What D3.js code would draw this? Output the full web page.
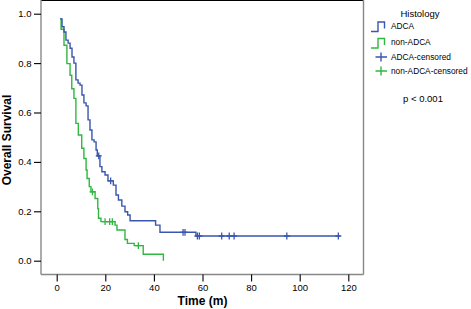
<!DOCTYPE html>
<html>
<head>
<meta charset="utf-8">
<script src="https://cdn.jsdelivr.net/npm/d3@7"></script>
<style>
  body { margin: 0; background: #fff; }
  text { font-family: "Liberation Sans", Arial, sans-serif; }
</style>
</head>
<body>
<svg id="chart" width="471" height="309"></svg>
<script>
// Kaplan-Meier steps (months, survival after the drop)
const blueTimes = [1.4, 2.2, 3.0, 3.8, 4.7, 5.5, 6.3, 7.1, 7.9, 8.8, 9.6, 10.4, 11.2, 12.1, 12.9, 13.7, 14.5, 15.4, 16.2, 16.7, 17.8, 18.6, 19.9, 21.1, 23.3, 24.4, 25.4, 26.8, 28.1, 29.2, 30.2, 40.7, 42.5, 57.3];
const blueSurv = [0.979, 0.947, 0.926, 0.893, 0.881, 0.860, 0.825, 0.800, 0.732, 0.719, 0.711, 0.671, 0.639, 0.627, 0.570, 0.529, 0.489, 0.481, 0.448, 0.424, 0.381, 0.360, 0.347, 0.323, 0.306, 0.266, 0.246, 0.221, 0.198, 0.185, 0.162, 0.144, 0.115, 0.100];
const blueEnd = 116.6;
const blueCensored = [17.3, 22.2, 52.0, 52.8, 57.9, 58.7, 67.9, 71.0, 73.0, 94.7, 115.9];

const greenTimes = [1.4, 1.8, 3.0, 4.2, 5.5, 6.2, 7.1, 7.9, 8.9, 10.3, 11.2, 12.1, 12.5, 13.4, 14.1, 15.8, 16.9, 17.2, 18.2, 24.0, 24.8, 28.1, 29.1, 31.9, 35.6, 43.9];
const greenSurv = [0.980, 0.937, 0.872, 0.798, 0.751, 0.696, 0.657, 0.556, 0.509, 0.455, 0.414, 0.367, 0.333, 0.300, 0.279, 0.252, 0.211, 0.172, 0.158, 0.144, 0.124, 0.086, 0.070, 0.061, 0.026, 0.0];
const greenEnd = 43.9;
const greenCensored = [14.7, 19.9, 21.8, 22.9, 33.6];

const xTicks = [0, 20, 40, 60, 80, 100, 120];
const yTicks = [0.0, 0.2, 0.4, 0.6, 0.8, 1.0];
const legendLabels = ["ADCA", "non-ADCA", "ADCA-censored", "non-ADCA-censored"];

const BLUE = "#3a56ae";
const GREEN = "#30b742";

const svg = d3.select("#chart");
const frame = { left: 41, right: 363.5, top: 0.5, bottom: 274.5 };

const x = d3.scaleLinear().domain([0, 120]).range([56.7, 348.3]);
const y = d3.scaleLinear().domain([0, 1]).range([260.7, 13.7]);

// frame
svg.append("line").attr("x1", frame.left).attr("x2", frame.right)
    .attr("y1", frame.top).attr("y2", frame.top)
    .attr("stroke", "#000").attr("stroke-width", 1.2);
svg.append("line").attr("x1", frame.right).attr("x2", frame.right)
    .attr("y1", 0).attr("y2", frame.bottom)
    .attr("stroke", "#888").attr("stroke-width", 1.4);

// axes
const xAxis = svg.append("g")
    .attr("transform", `translate(0, ${frame.bottom})`)
    .call(d3.axisBottom(x).tickValues(xTicks).tickSize(7).tickSizeOuter(0).tickPadding(3));
xAxis.select(".domain").attr("d", `M${frame.left},0H${frame.right}`).attr("stroke", "#888").attr("stroke-width", 1.4);

const yAxis = svg.append("g")
    .attr("transform", `translate(${frame.left}, 0)`)
    .call(d3.axisLeft(y).tickValues(yTicks).tickFormat(d3.format(".1f")).tickSize(7).tickSizeOuter(0).tickPadding(2.5));
yAxis.select(".domain").attr("d", `M0,0V${frame.bottom}`).attr("stroke", "#888").attr("stroke-width", 1.4);

svg.selectAll(".tick text").attr("font-size", "9.5px").attr("fill", "#000")
    .style("font-family", "'Liberation Sans', Arial, sans-serif");
svg.selectAll(".tick line").attr("stroke", "#000").attr("stroke-width", 1.1);

// axis titles
svg.append("text")
    .attr("x", 202.5).attr("y", 304.5)
    .attr("text-anchor", "middle")
    .attr("font-size", "12px").attr("font-weight", "bold")
    .text("Time (m)");
svg.append("text")
    .attr("transform", "translate(10.5, 140) rotate(-90)")
    .attr("text-anchor", "middle")
    .attr("font-size", "12px").attr("font-weight", "bold")
    .text("Overall Survival");

// survival curves
function stepPath(times, surv, end) {
    let d = `M${x(times[0])},${y(surv[0])}`;
    for (let i = 1; i < times.length; i++) {
        d += `H${x(times[i])}V${y(surv[i])}`;
    }
    return d + `H${x(end)}`;
}
function survAt(times, surv, t) {
    let s = surv[0];
    for (let i = 0; i < times.length; i++) if (times[i] <= t) s = surv[i];
    return s;
}

const curves = [
    { times: greenTimes, surv: greenSurv, end: greenEnd, cens: greenCensored, color: GREEN },
    { times: blueTimes, surv: blueSurv, end: blueEnd, cens: blueCensored, color: BLUE }
];

curves.forEach(c => {
    svg.append("path")
        .attr("d", stepPath(c.times, c.surv, c.end))
        .attr("fill", "none")
        .attr("stroke", c.color)
        .attr("stroke-width", 1.4);
    svg.append("g").selectAll("path")
        .data(c.cens)
        .join("path")
        .attr("d", t => {
            const px = x(t), py = y(survAt(c.times, c.surv, t));
            return `M${px - 3},${py}H${px + 3}M${px},${py - 3.4}V${py + 3.4}`;
        })
        .attr("stroke", c.color)
        .attr("stroke-width", 1.3)
        .attr("fill", "none");
});

// legend
const legend = svg.append("g");
legend.append("text")
    .attr("x", 420).attr("y", 17)
    .attr("text-anchor", "middle")
    .attr("font-size", "9.5px")
    .text("Histology");

const legendColors = [BLUE, GREEN, BLUE, GREEN];
const rowY = [25.5, 42, 57, 71];
legendLabels.forEach((label, i) => {
    const cy = rowY[i];
    const color = legendColors[i];
    if (i < 2) {
        legend.append("path")
            .attr("d", `M371,${cy + 6}H378V${cy - 3.5}H384.5V${cy + 3}`)
            .attr("fill", "none").attr("stroke", color).attr("stroke-width", 1.4);
    } else {
        legend.append("path")
            .attr("d", `M375.5,${cy}H387M381,${cy - 4.5}V${cy + 4.5}`)
            .attr("fill", "none").attr("stroke", color).attr("stroke-width", 1.4);
    }
    legend.append("text")
        .attr("x", 391).attr("y", cy + 3)
        .attr("font-size", "8.3px")
        .text(label);
});

legend.append("text")
    .attr("x", 423).attr("y", 101.5)
    .attr("text-anchor", "middle")
    .attr("font-size", "9.5px")
    .text("p < 0.001");
</script>
</body>
</html>
